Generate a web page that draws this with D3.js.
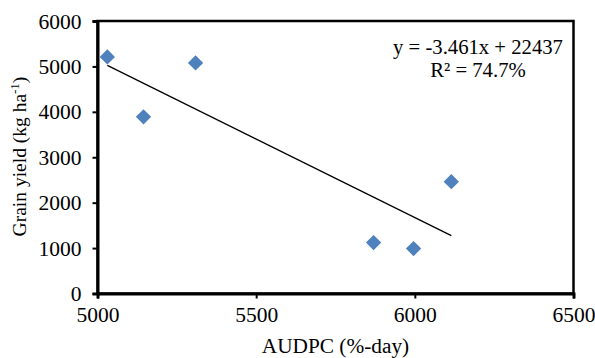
<!DOCTYPE html>
<html>
<head>
<meta charset="utf-8">
<script src="https://cdn.jsdelivr.net/npm/d3@7"></script>
<style>
  html, body { margin: 0; padding: 0; background: #fff; }
  svg { display: block; }
</style>
</head>
<body>
<svg id="chart" width="595" height="358"></svg>
<script>
// AUDPC vs grain yield
const audpc = [5031, 5145, 5309, 5870, 5996, 6115];
const grainYield = [5209, 3890, 5077, 1121, 989, 2462];

const xTicks = [5000, 5500, 6000, 6500];
const yTicks = [0, 1000, 2000, 3000, 4000, 5000, 6000];

// trend line from the equation in the chart
const trendSlope = -3.461;
const trendIntercept = 22437;
const eqLines = ["y = -3.461x + 22437", "R\u00B2 = 74.7%"];

const FONT = "'Times New Roman', 'Liberation Serif', Tinos, 'DejaVu Serif', serif";
const W = 595, H = 358;
const m = { top: 21, right: 21.5, bottom: 64.5, left: 97.5 };

const svg = d3.select("#chart").attr("font-family", FONT);

const x = d3.scaleLinear().domain([5000, 6500]).range([m.left, W - m.right]);
const y = d3.scaleLinear().domain([0, 6000]).range([H - m.bottom, m.top]);

// plot frame
svg.append("rect")
  .attr("x", m.left)
  .attr("y", m.top)
  .attr("width", W - m.right - m.left)
  .attr("height", H - m.bottom - m.top)
  .attr("fill", "none")
  .attr("stroke", "#000")
  .attr("stroke-width", 2.5);

const xAxis = svg.append("g")
  .attr("transform", `translate(0,${H - m.bottom})`)
  .call(d3.axisBottom(x).tickValues(xTicks).tickSize(5).tickPadding(8).tickFormat(d3.format("d")));

const yAxis = svg.append("g")
  .attr("transform", `translate(${m.left},0)`)
  .call(d3.axisLeft(y).tickValues(yTicks).tickSize(5).tickPadding(11).tickFormat(d3.format("d")));

[xAxis, yAxis].forEach(g => {
  g.attr("font-family", FONT).attr("font-size", 21.5);
  g.select(".domain").attr("stroke-width", 3);
  g.selectAll(".tick line").attr("stroke-width", 2);
  g.selectAll(".tick text").attr("fill", "#000");
});
yAxis.selectAll(".tick text").attr("dy", "0.33em");

// trend line over the data range
const xr = d3.extent(audpc);
svg.append("line")
  .attr("x1", x(xr[0]))
  .attr("y1", y(trendSlope * xr[0] + trendIntercept))
  .attr("x2", x(xr[1]))
  .attr("y2", y(trendSlope * xr[1] + trendIntercept))
  .attr("stroke", "#000")
  .attr("stroke-width", 1.3);

// markers
const pts = audpc.map((v, i) => ({ x: v, y: grainYield[i] }));
svg.append("g")
  .selectAll("path")
  .data(pts)
  .join("path")
  .attr("transform", d => `translate(${x(d.x)},${y(d.y)})`)
  .attr("d", d3.symbol(d3.symbolDiamond2, 150))
  .attr("fill", "#4F81BD");

// equation label
svg.append("text")
  .attr("x", 478)
  .attr("y", 54)
  .attr("text-anchor", "middle")
  .attr("font-size", 20.7)
  .text(eqLines[0]);
svg.append("text")
  .attr("x", 478)
  .attr("y", 77)
  .attr("text-anchor", "middle")
  .attr("font-size", 20.7)
  .text(eqLines[1]);

// axis titles
svg.append("text")
  .attr("x", (m.left + W - m.right) / 2)
  .attr("y", 353)
  .attr("text-anchor", "middle")
  .attr("font-size", 21.3)
  .text("AUDPC (%-day)");

const yt = svg.append("text")
  .attr("transform", `translate(26,156.5) rotate(-90)`)
  .attr("text-anchor", "middle")
  .attr("font-size", 19.5);
yt.append("tspan").text("Grain yield (kg ha");
yt.append("tspan").attr("dy", -7).attr("font-size", 13).text("-1");
yt.append("tspan").attr("dy", 7).text(")");
</script>
</body>
</html>
